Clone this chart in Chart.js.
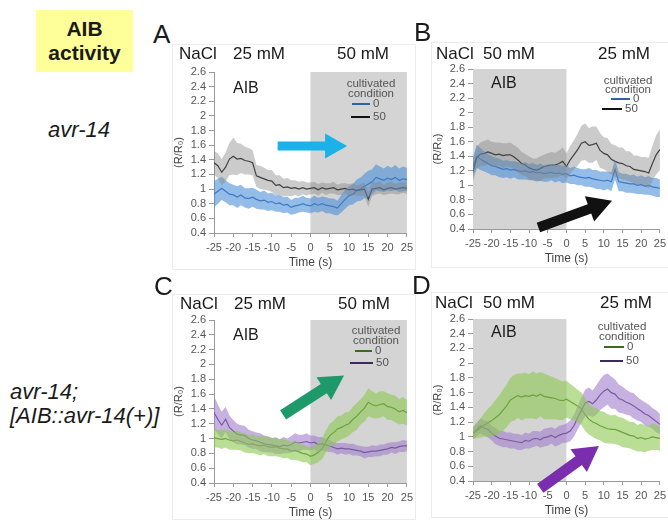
<!DOCTYPE html>
<html>
<head>
<meta charset="utf-8">
<script src="https://cdn.jsdelivr.net/npm/chart.js@4.4.0/dist/chart.umd.min.js"></script>
<style>
body{margin:0;background:#fff;font-family:Arial,"Liberation Sans",sans-serif;}
#page{position:relative;width:668px;height:520px;overflow:hidden;}
.t{position:absolute;white-space:nowrap;color:#1a1a1a;}
.box{position:absolute;border:1px solid #ececec;}
.lg{position:absolute;white-space:nowrap;font-size:11.5px;line-height:11px;color:#555;}
.ln{position:absolute;height:0;border-top:2px solid;}
canvas{position:absolute;}
</style>
</head>
<body>
<div id="page">
  <div class="t" style="left:36px;top:10px;width:97px;height:55px;padding-top:7px;background:#ffff99;font-weight:bold;font-size:21px;line-height:24px;text-align:center;">AIB<br>activity</div>
  <div class="t" style="left:48px;top:119px;font-size:22px;line-height:22px;font-style:italic;">avr-14</div>
  <div class="t" style="left:10px;top:381px;font-size:22px;line-height:22px;font-style:italic;">avr-14;</div>
  <div class="t" style="left:10px;top:405px;font-size:22px;line-height:22px;font-style:italic;">[AIB::avr-14(+)]</div>
</div>
<script>
// time axis (s) and tick labels
const seconds = [-25,-24,-23,-22,-21,-20,-19,-18,-17,-16,-15,-14,-13,-12,-11,-10,-9,-8,-7,-6,-5,-4,-3,-2,-1,0,1,2,3,4,5,6,7,8,9,10,11,12,13,14,15,16,17,18,19,20,21,22,23,24,25];
const timeTicks = [-25,-20,-15,-10,-5,0,5,10,15,20,25];
const ratioTicks = [0.4,0.6,0.8,1,1.2,1.4,1.6,1.8,2,2.2,2.4,2.6];

// A : avr-14, 25 -> 50 mM
const a0Mean = [0.93,0.97,1.01,0.97,0.93,0.92,0.89,0.92,0.88,0.87, 0.89,0.86,0.84,0.85,0.82,0.83,0.80,0.81,0.78,0.79, 0.75,0.77,0.78,0.80,0.78,0.77,0.80,0.78,0.80,0.78, 0.77,0.76,0.74,0.80,0.86,0.91,0.93,0.98,1.00,1.04, 1.07,1.10,1.16,1.14,1.12,1.15,1.13,1.16,1.12,1.14, 1.13];
const a0Sem = [0.18,0.17,0.16,0.15,0.15,0.14,0.15,0.14,0.13,0.14, 0.13,0.13,0.12,0.13,0.12,0.12,0.11,0.12,0.11,0.11, 0.10,0.11,0.10,0.11,0.10,0.10,0.11,0.10,0.10,0.11, 0.10,0.11,0.10,0.12,0.13,0.13,0.14,0.15,0.16,0.17, 0.18,0.17,0.18,0.17,0.16,0.17,0.16,0.17,0.16,0.17, 0.16];
const a50Mean = [1.36,1.32,1.23,1.30,1.41,1.45,1.41,1.42,1.39,1.38, 1.36,1.18,1.16,1.14,1.12,1.11,1.05,1.06,1.02,1.03, 1.01,1.02,1.00,1.02,1.00,1.01,1.02,0.99,1.02,1.00, 1.01,1.02,0.99,1.00,1.01,0.99,1.00,0.98,0.99,1.00, 0.86,1.00,1.01,1.02,0.99,1.01,1.02,1.00,1.01,1.02, 1.01];
const a50Sem = [0.16,0.17,0.18,0.20,0.22,0.25,0.22,0.20,0.19,0.18, 0.17,0.15,0.16,0.15,0.14,0.15,0.14,0.13,0.12,0.12, 0.11,0.10,0.10,0.09,0.09,0.08,0.08,0.08,0.07,0.08, 0.07,0.08,0.07,0.08,0.07,0.08,0.08,0.07,0.08,0.09, 0.10,0.09,0.08,0.08,0.07,0.08,0.08,0.07,0.08,0.07, 0.08];

// B : avr-14, 50 -> 25 mM
const b0Mean = [1.26,1.40,1.36,1.33,1.30,1.27,1.26,1.24,1.22,1.23, 1.21,1.22,1.20,1.19,1.20,1.18,1.19,1.17,1.18,1.16, 1.17,1.18,1.16,1.17,1.15,1.16,1.13,1.14,1.12,1.11, 1.10,1.11,1.09,1.08,1.07,1.06,1.07,1.05,1.22,1.05, 1.04,1.03,1.02,1.02,1.00,1.01,0.99,1.00,0.98,0.97, 0.96];
const b0Sem = [0.13,0.16,0.15,0.14,0.13,0.13,0.12,0.13,0.12,0.12, 0.12,0.11,0.12,0.11,0.12,0.11,0.12,0.11,0.12,0.11, 0.12,0.11,0.12,0.11,0.12,0.12,0.11,0.12,0.12,0.11, 0.12,0.13,0.12,0.13,0.12,0.13,0.12,0.13,0.14,0.13, 0.12,0.13,0.12,0.13,0.12,0.13,0.12,0.13,0.12,0.13, 0.12];
const b50Mean = [1.19,1.38,1.43,1.44,1.46,1.44,1.42,1.43,1.41,1.42, 1.42,1.39,1.35,1.30,1.28,1.24,1.22,1.21,1.23,1.26, 1.27,1.28,1.28,1.30,1.33,1.26,1.35,1.42,1.49,1.58, 1.60,1.55,1.56,1.58,1.48,1.44,1.42,1.36,1.33,1.31, 1.30,1.27,1.26,1.22,1.21,1.20,1.19,1.17,1.30,1.42, 1.49];
const b50Sem = [0.14,0.15,0.16,0.17,0.17,0.16,0.17,0.16,0.17,0.16, 0.17,0.16,0.17,0.16,0.15,0.16,0.15,0.16,0.17,0.16, 0.17,0.18,0.17,0.18,0.19,0.18,0.19,0.20,0.22,0.24, 0.25,0.24,0.25,0.23,0.24,0.22,0.23,0.21,0.22,0.21, 0.22,0.20,0.21,0.19,0.20,0.19,0.20,0.21,0.24,0.27, 0.28];

// C : avr-14; [AIB::avr-14(+)], 25 -> 50 mM
const c0Mean = [1.01,1.00,0.99,1.00,0.98,0.97,0.98,0.96,0.94,0.92, 0.93,0.91,0.90,0.91,0.89,0.88,0.89,0.87,0.86,0.86, 0.83,0.84,0.82,0.80,0.79,0.76,0.78,0.81,0.86,0.96, 1.04,1.08,1.13,1.15,1.18,1.20,1.26,1.30,1.36,1.41, 1.49,1.46,1.44,1.46,1.47,1.43,1.42,1.40,1.36,1.38, 1.35];
const c0Sem = [0.13,0.12,0.13,0.12,0.13,0.12,0.13,0.12,0.13,0.12, 0.13,0.12,0.13,0.12,0.13,0.12,0.13,0.12,0.13,0.12, 0.12,0.13,0.12,0.12,0.11,0.12,0.12,0.13,0.14,0.15, 0.16,0.16,0.17,0.16,0.17,0.16,0.17,0.18,0.17,0.18, 0.19,0.18,0.17,0.18,0.17,0.18,0.17,0.18,0.17,0.18, 0.17];
const c50Mean = [1.35,1.26,1.18,1.26,1.15,1.10,1.06,1.05,1.04,1.00, 0.98,0.97,0.95,0.93,0.92,0.91,0.90,0.89,0.91,0.90, 0.92,0.95,0.94,0.95,0.96,0.94,0.95,0.92,0.93,0.91, 0.90,0.88,0.86,0.87,0.86,0.86,0.85,0.84,0.83,0.81, 0.82,0.83,0.83,0.84,0.85,0.86,0.88,0.87,0.89,0.90, 0.90];
const c50Sem = [0.22,0.20,0.18,0.17,0.16,0.15,0.14,0.13,0.13,0.12, 0.12,0.11,0.12,0.11,0.11,0.10,0.11,0.10,0.11,0.10, 0.11,0.12,0.11,0.10,0.11,0.10,0.09,0.10,0.09,0.08, 0.08,0.07,0.08,0.07,0.08,0.07,0.08,0.07,0.07,0.08, 0.07,0.08,0.07,0.08,0.07,0.08,0.07,0.08,0.07,0.08, 0.07];

// D : avr-14; [AIB::avr-14(+)], 50 -> 25 mM
const d0Mean = [1.05,1.08,1.12,1.16,1.19,1.22,1.26,1.30,1.36,1.42, 1.50,1.53,1.56,1.54,1.56,1.55,1.57,1.55,1.58,1.55, 1.54,1.53,1.52,1.50,1.49,1.51,1.48,1.45,1.42,1.38, 1.30,1.24,1.20,1.18,1.15,1.13,1.11,1.10,1.10,1.08, 1.06,1.04,1.02,1.01,0.98,0.99,0.97,0.98,1.00,0.99, 0.98];
const d0Sem = [0.08,0.10,0.13,0.16,0.19,0.21,0.24,0.26,0.28,0.29, 0.30,0.31,0.30,0.32,0.31,0.30,0.32,0.31,0.30,0.31, 0.30,0.29,0.28,0.27,0.26,0.25,0.24,0.23,0.22,0.22, 0.22,0.21,0.20,0.21,0.20,0.21,0.20,0.19,0.20,0.19, 0.20,0.19,0.18,0.19,0.18,0.19,0.18,0.17,0.18,0.17, 0.17];
const d50Mean = [1.05,1.10,1.15,1.12,1.10,1.05,1.01,0.98,0.97,0.96, 0.95,0.94,0.93,0.92,0.95,0.94,0.97,0.98,0.96,0.99, 1.00,1.02,0.99,1.02,1.04,1.05,1.08,1.15,1.26,1.36, 1.46,1.48,1.45,1.50,1.57,1.62,1.65,1.60,1.58,1.52, 1.50,1.47,1.45,1.42,1.38,1.35,1.31,1.29,1.25,1.21, 1.17];
const d50Sem = [0.08,0.09,0.10,0.10,0.11,0.10,0.11,0.10,0.11,0.10, 0.11,0.10,0.11,0.10,0.11,0.10,0.11,0.10,0.11,0.12, 0.12,0.11,0.12,0.13,0.12,0.13,0.14,0.15,0.16,0.17, 0.18,0.19,0.18,0.20,0.21,0.22,0.21,0.22,0.20,0.19, 0.18,0.17,0.16,0.17,0.16,0.15,0.16,0.15,0.14,0.15, 0.14];

var blueLine = '#2f62ad', blueBand = 'rgba(70,140,215,0.58)';
var blackLine = '#111111', grayBand = 'rgba(130,130,130,0.42)';
var greenLine = '#3c6a1f', greenBand = 'rgba(140,200,80,0.6)';
var purpleLine = '#3a2b5c', purpleBand = 'rgba(160,125,205,0.6)';

var panels = [
    { letter: 'A', plot: [214, 72, 407, 233], box: [172, 44, 414, 268], shade: [0, 25],
      heads: [['NaCl', 179, 53], ['25 mM', 233, 53], ['50 mM', 337, 53]], aib: [233, 88],
      letterPos: [153, 34],
      legend: { cx: 371, rows: [84, 94], items: [[blueLine, 352, 370, 104, '0'], [blackLine, 351, 370, 117, '50']] },
      series: [{ mean: a50Mean, sem: a50Sem, line: blackLine, band: grayBand }, { mean: a0Mean, sem: a0Sem, line: blueLine, band: blueBand }],
      arrow: { from: [-8.5, 1.59], to: [9.5, 1.59], color: '#1bb1e9', shaft: 9, head: 25, len: 22 } },
    { letter: 'B', plot: [473, 69, 660, 229], box: [431, 42, 667, 266], shade: [-25, 0],
      heads: [['NaCl', 436, 53], ['50 mM', 483, 53], ['25 mM', 598, 53]], aib: [491, 83],
      letterPos: [414, 32],
      legend: { cx: 628, rows: [81, 90], items: [[blueLine, 611, 630, 99, '0'], [blackLine, 602, 622, 109, '50']] },
      series: [{ mean: b50Mean, sem: b50Sem, line: blackLine, band: grayBand }, { mean: b0Mean, sem: b0Sem, line: blueLine, band: blueBand }],
      arrow: { from: [-7.5, 0.42], to: [12.2, 0.79], color: '#111111', shaft: 10, head: 27, len: 24 } },
    { letter: 'C', plot: [214, 320, 407, 483], box: [172, 294, 414, 518], shade: [0, 25],
      heads: [['NaCl', 180, 303], ['25 mM', 234, 303], ['50 mM', 338, 303]], aib: [233, 335],
      letterPos: [154, 286],
      legend: { cx: 376, rows: [331, 341], items: [[greenLine, 355, 372, 351, '0'], [purpleLine, 350, 373, 363, '50']] },
      series: [{ mean: c0Mean, sem: c0Sem, line: greenLine, band: greenBand }, { mean: c50Mean, sem: c50Sem, line: purpleLine, band: purpleBand }],
      arrow: { from: [-7.1, 1.32], to: [8.7, 1.85], color: '#1e9a6a', shaft: 11, head: 27, len: 24 } },
    { letter: 'D', plot: [473, 319, 660, 481], box: [431, 292, 667, 516], shade: [-25, 0],
      heads: [['NaCl', 435, 302], ['50 mM', 483, 302], ['25 mM', 600, 302]], aib: [491, 332],
      letterPos: [412, 285],
      legend: { cx: 622, rows: [327, 337], items: [[greenLine, 604, 624, 347, '0'], [purpleLine, 600, 623, 361, '50']] },
      series: [{ mean: d0Mean, sem: d0Sem, line: greenLine, band: greenBand }, { mean: d50Mean, sem: d50Sem, line: purpleLine, band: purpleBand }],
      arrow: { from: [-7.0, 0.30], to: [8.7, 0.875], color: '#7a2eae', shaft: 11, head: 28, len: 25 } }
];

var page = document.getElementById('page');

function addText(txt, left, cy, size, extra) {
    var d = document.createElement('div');
    d.className = 't';
    d.style.left = left + 'px';
    d.style.top = (cy - size / 2) + 'px';
    d.style.fontSize = size + 'px';
    d.style.lineHeight = size + 'px';
    if (extra) d.style.cssText += extra;
    d.textContent = txt;
    page.appendChild(d);
    return d;
}

function toPoints(vals) {
    return vals.map(function (v, i) { return { x: seconds[i], y: v }; });
}

function drawArrow(ctx, x1, y1, x2, y2, a) {
    var dx = x2 - x1, dy = y2 - y1, len = Math.hypot(dx, dy);
    var ux = dx / len, uy = dy / len, nx = -uy, ny = ux;
    var bx = x2 - ux * a.len, by = y2 - uy * a.len;
    ctx.beginPath();
    ctx.moveTo(x1 + nx * a.shaft / 2, y1 + ny * a.shaft / 2);
    ctx.lineTo(bx + nx * a.shaft / 2, by + ny * a.shaft / 2);
    ctx.lineTo(bx + nx * a.head / 2, by + ny * a.head / 2);
    ctx.lineTo(x2, y2);
    ctx.lineTo(bx - nx * a.head / 2, by - ny * a.head / 2);
    ctx.lineTo(bx - nx * a.shaft / 2, by - ny * a.shaft / 2);
    ctx.lineTo(x1 - nx * a.shaft / 2, y1 - ny * a.shaft / 2);
    ctx.closePath();
    ctx.fillStyle = a.color;
    ctx.fill();
}

// grey block for the stimulus period
var shadePlugin = {
    id: 'shade',
    beforeDatasetsDraw: function (chart, args, opts) {
        var x = chart.scales.x, ca = chart.chartArea, ctx = chart.ctx;
        var x1 = x.getPixelForValue(opts.range[0]), x2 = x.getPixelForValue(opts.range[1]);
        ctx.save();
        ctx.fillStyle = '#d4d4d4';
        ctx.fillRect(x1, ca.top, x2 - x1, ca.bottom - ca.top);
        ctx.restore();
    }
};

var arrowPlugin = {
    id: 'arrow',
    afterDraw: function (chart, args, a) {
        var x = chart.scales.x, y = chart.scales.y, ctx = chart.ctx;
        ctx.save();
        drawArrow(ctx, x.getPixelForValue(a.from[0]), y.getPixelForValue(a.from[1]),
            x.getPixelForValue(a.to[0]), y.getPixelForValue(a.to[1]), a);
        ctx.restore();
    }
};

function makePanel(p) {
    var b = document.createElement('div');
    b.className = 'box';
    b.style.left = p.box[0] + 'px'; b.style.top = p.box[1] + 'px';
    b.style.width = (p.box[2] - p.box[0]) + 'px'; b.style.height = (p.box[3] - p.box[1]) + 'px';
    page.appendChild(b);

    var cv = document.createElement('canvas');
    var w = p.plot[2] - p.plot[0] + 52, h = p.plot[3] - p.plot[1] + 64;
    cv.width = w; cv.height = h;
    cv.style.left = (p.plot[0] - 42) + 'px';
    cv.style.top = (p.plot[1] - 27) + 'px';
    cv.style.width = w + 'px'; cv.style.height = h + 'px';
    page.appendChild(cv);

    var datasets = [];
    p.series.forEach(function (s) {
        datasets.push({ data: toPoints(s.mean.map(function (m, i) { return m + s.sem[i]; })),
            borderWidth: 0, borderColor: 'rgba(0,0,0,0)', pointRadius: 0, fill: false });
        datasets.push({ data: toPoints(s.mean.map(function (m, i) { return m - s.sem[i]; })),
            borderWidth: 0, borderColor: 'rgba(0,0,0,0)', pointRadius: 0, fill: '-1', backgroundColor: s.band });
    });
    p.series.forEach(function (s) {
        datasets.push({ data: toPoints(s.mean), borderColor: s.line, borderWidth: 1.2, pointRadius: 0, fill: false });
    });

    new Chart(cv, {
        type: 'line',
        data: { datasets: datasets },
        plugins: [shadePlugin, arrowPlugin],
        options: {
            responsive: false,
            animation: false,
            devicePixelRatio: 1,
            layout: { padding: { top: 27, right: 10, left: 0, bottom: 0 } },
            elements: { line: { tension: 0 } },
            plugins: {
                legend: { display: false },
                tooltip: { enabled: false },
                shade: { range: p.shade },
                arrow: p.arrow
            },
            scales: {
                x: {
                    type: 'linear', min: -25, max: 25,
                    afterBuildTicks: function (s) { s.ticks = timeTicks.map(function (v) { return { value: v }; }); },
                    afterFit: function (s) { s.height = 37; },
                    ticks: { autoSkip: false, maxRotation: 0, padding: 4, color: '#555', font: { size: 11 },
                        callback: function (v) { return String(v); } },
                    grid: { drawOnChartArea: false, tickLength: 4, color: '#9a9a9a' },
                    border: { color: '#9a9a9a' },
                    title: { display: true, text: 'Time (s)', color: '#444', font: { size: 12 }, padding: 0 }
                },
                y: {
                    min: 0.4, max: 2.6,
                    afterBuildTicks: function (s) { s.ticks = ratioTicks.map(function (v) { return { value: v }; }); },
                    afterFit: function (s) { s.width = 42; },
                    ticks: { autoSkip: false, padding: 3, color: '#555', font: { size: 11 },
                        callback: function (v) { return String(v); } },
                    grid: { drawOnChartArea: false, tickLength: 5, color: '#9a9a9a' },
                    border: { color: '#9a9a9a' },
                    title: { display: true, text: '(R/R\u2080)', color: '#444', font: { size: 11 }, padding: 0 }
                }
            }
        }
    });

    addText(p.letter, p.letterPos[0], p.letterPos[1], 26);
    p.heads.forEach(function (hd) { addText(hd[0], hd[1], hd[2], 17); });
    addText('AIB', p.aib[0], p.aib[1], 16);

    var lg = p.legend;
    ['cultivated', 'condition'].forEach(function (txt, i) {
        var d = document.createElement('div');
        d.className = 'lg';
        d.style.left = (lg.cx - 40) + 'px'; d.style.width = '80px'; d.style.textAlign = 'center';
        d.style.top = (lg.rows[i] - 6) + 'px';
        d.textContent = txt;
        page.appendChild(d);
    });
    lg.items.forEach(function (it) {
        var l = document.createElement('div');
        l.className = 'ln';
        l.style.borderTopColor = it[0];
        l.style.left = it[1] + 'px'; l.style.width = (it[2] - it[1]) + 'px';
        l.style.top = (it[3] - 1) + 'px';
        page.appendChild(l);
        var d = document.createElement('div');
        d.className = 'lg';
        d.style.left = (it[2] + 3) + 'px';
        d.style.top = (it[3] - 6) + 'px';
        d.textContent = it[4];
        page.appendChild(d);
    });
}

panels.forEach(makePanel);
</script>
</body>
</html>
